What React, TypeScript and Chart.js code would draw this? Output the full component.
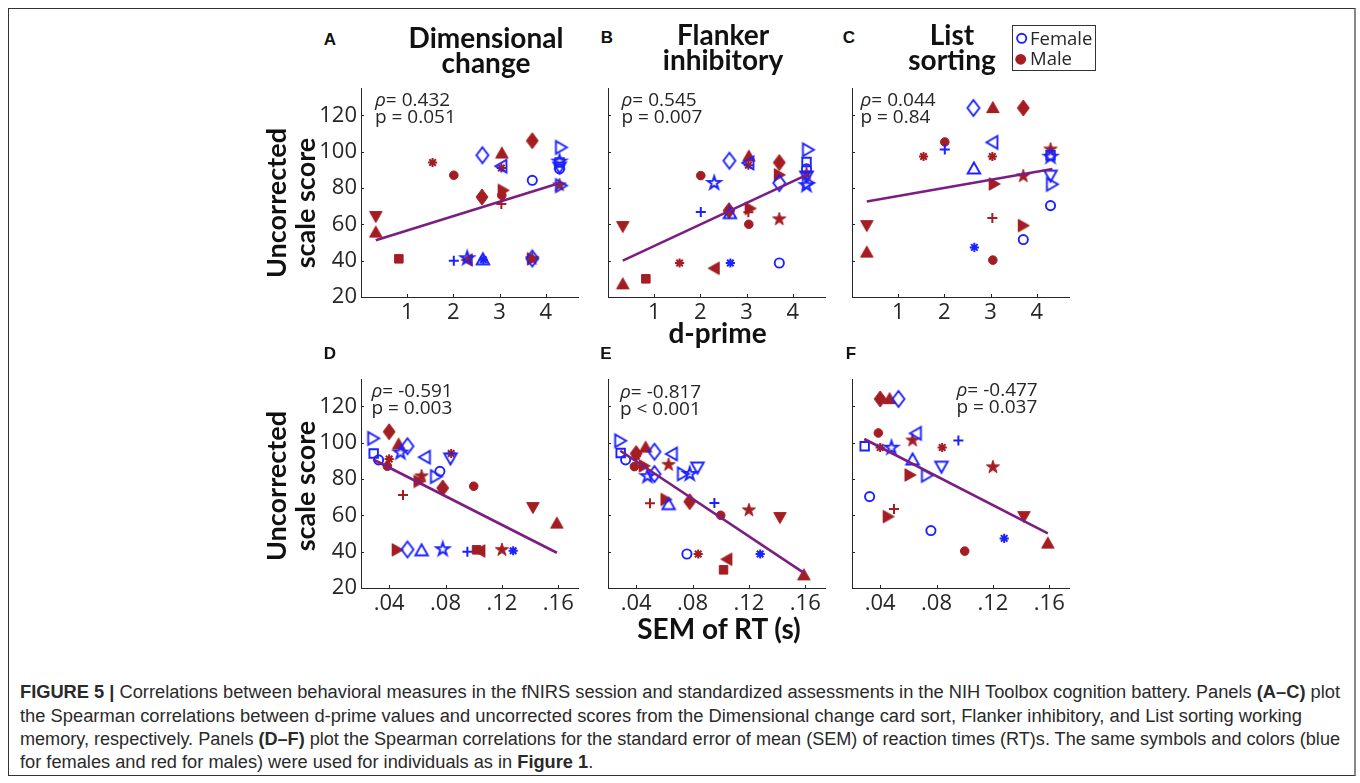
import React, { useEffect, useLayoutEffect, useRef } from 'react';
import { Chart, registerables } from 'chart.js';

Chart.register(...registerables);

const RED = '#a31d22';
const BLUE = '#1c22ff';
const PURPLE = '#7c1d82';
const INK = '#262626';

// ---- individuals: same symbol + colour = same person in every panel ----
const sex = ['M','M','M','M','M','M','M','M','M','M','M','M','M','M','M','M',
             'F','F','F','F','F','F','F','F','F','F','F','F','F','F'];
const marker = ['^','v','s','*','o','<','d','^','*','>','o','+','d','p','>','p',
                '+','p','^','*','d','<','o','d','>','s','o','p','v','>'];
const dprime = [0.32,0.32,0.82,1.55,2.01,2.29,2.62,3.05,3.04,3.09,3.05,3.04,3.71,3.71,3.72,4.30,
                2.01,2.30,2.64,2.65,2.63,3.03,3.71,3.71,4.34,4.30,4.30,4.30,4.30,4.34];
const semRT = [0.159,0.142,0.102,0.084,0.0387,0.104,0.078,0.0467,0.040,0.0615,0.100,0.0498,0.040,0.120,0.046,0.063,
               0.0955,0.078,0.063,0.128,0.053,0.065,0.076,0.053,0.029,0.029,0.0325,0.048,0.0835,0.0735];
const dccsScore = [56,64,41,94,87,40.4,75,99.5,91,78.7,76,71.2,106,41,41,81.5,
                   40,41.3,41,40.5,98,92,84.2,41.2,102.3,94,90.5,94.5,91,81.3];
const flankerScore = [27.5,58.5,30,38.7,86.8,35.8,67.5,97.8,92.5,68.7,60,66.7,94,62.8,87.2,87.8,
                      66.8,82.7,66.4,38.7,95,93.8,38.7,82.7,101,94.3,90.5,81.5,86,82.8];
const listScore: (number | null)[] = [45,59,null,97.3,105.3,null,null,124.5,97.3,82.2,40.3,63.5,124,86.5,59.3,101.2,
                   101.2,null,91,47.3,124,105.1,51.6,null,null,98,70.3,97.2,86.5,82];

// ---- regression lines (end points) ----
const fitDprimeX = [0.32, 4.34];
const fitSemX = [0.0287, 0.159];
const fitDccsOnDprime = [51.2, 83.0];
const fitFlankerOnDprime = [40.0, 87.6];
const fitListOnDprime = [72.5, 90.4];
const fitDccsOnSem = [90.7, 39.4];
const fitFlankerOnSem = [95.5, 28.3];
const fitListOnSem = [102.0, 50.1];

// ---- axes ----
const dprimeTicks = [1, 2, 3, 4];
const semTicks = [0.04, 0.08, 0.12, 0.16];
const scoreTicks = [20, 40, 60, 80, 100, 120];
const dprimeRange = [0, 4.7];
const semRange = [0.02, 0.174];
const scoreRange = [20, 135];

// ---- statistics text ----
const rhoText = ['0.432', '0.545', '0.044', '-0.591', '-0.817', '-0.477'];
const pText = ['= 0.051', '= 0.007', '= 0.84', '= 0.003', '< 0.001', '= 0.037'];

// ---- layout ----
const PLOT_W = 217;
const PLOT_H = 209;
const AX_W = 70;
const PAD_T = 20;
const PAD_R = 24;
const AX_H = 40;

type PanelDef = {
  L: number; T: number; xs: number[]; ys: (number | null)[];
  xRange: number[]; xTicks: number[]; sem: boolean; fitX: number[]; fitY: number[]; showY: boolean;
};

const panelDefs: PanelDef[] = [
  { L: 361, T: 88, xs: dprime, ys: dccsScore, xRange: dprimeRange, xTicks: dprimeTicks, sem: false, fitX: fitDprimeX, fitY: fitDccsOnDprime, showY: true },
  { L: 608, T: 88, xs: dprime, ys: flankerScore, xRange: dprimeRange, xTicks: dprimeTicks, sem: false, fitX: fitDprimeX, fitY: fitFlankerOnDprime, showY: false },
  { L: 852, T: 88, xs: dprime, ys: listScore, xRange: dprimeRange, xTicks: dprimeTicks, sem: false, fitX: fitDprimeX, fitY: fitListOnDprime, showY: false },
  { L: 361, T: 379, xs: semRT, ys: dccsScore, xRange: semRange, xTicks: semTicks, sem: true, fitX: fitSemX, fitY: fitDccsOnSem, showY: true },
  { L: 608, T: 379, xs: semRT, ys: flankerScore, xRange: semRange, xTicks: semTicks, sem: true, fitX: fitSemX, fitY: fitFlankerOnSem, showY: false },
  { L: 852, T: 379, xs: semRT, ys: listScore, xRange: semRange, xTicks: semTicks, sem: true, fitX: fitSemX, fitY: fitListOnSem, showY: false },
];

const statPos = [
  [375, 91], [621.5, 91], [860.5, 91], [371.5, 382], [620, 382.5], [956.5, 381],
];

// ---- marker images for shapes Chart.js lacks ----
const imgCache: Record<string, HTMLCanvasElement> = {};
function markerImage(m: string, filled: boolean): HTMLCanvasElement {
  const key = m + (filled ? 'M' : 'F');
  if (imgCache[key]) return imgCache[key];
  const S = 20;
  const c = document.createElement('canvas');
  c.width = S; c.height = S;
  const g = c.getContext('2d')!;
  g.translate(S / 2, S / 2);
  const col = filled ? RED : BLUE;
  g.beginPath();
  if (m === 'p') {
    const R = 6.9, r = R * 0.382;
    for (let k = 0; k < 10; k++) {
      const a = -Math.PI / 2 + (k * Math.PI) / 5;
      const rad = k % 2 ? r : R;
      const px = Math.cos(a) * rad, py = Math.sin(a) * rad;
      if (k) g.lineTo(px, py); else g.moveTo(px, py);
    }
    g.closePath();
  } else if (m === 'd') {
    g.moveTo(0, -8); g.lineTo(6, 0); g.lineTo(0, 8); g.lineTo(-6, 0); g.closePath();
  } else {
    const rots: Record<string, number> = { '^': 0, '>': 90, 'v': 180, '<': 270 };
    g.rotate(((rots[m] || 0) * Math.PI) / 180);
    const w = 12.5, h = 11;
    g.moveTo(0, -h / 2); g.lineTo(w / 2, h / 2); g.lineTo(-w / 2, h / 2); g.closePath();
  }
  if (filled) { g.fillStyle = col; g.fill(); g.lineWidth = 1; } else { g.lineWidth = 1.9; }
  g.strokeStyle = col;
  g.stroke();
  imgCache[key] = c;
  return c;
}

function styleFor(m: string, filled: boolean): any {
  if (m === 'o') return 'circle';
  if (m === 's') return 'rect';
  if (m === '*') return 'star';
  if (m === '+') return 'cross';
  return markerImage(m, filled);
}
function radiusFor(m: string, filled: boolean): number {
  if (m === 'o') return filled ? 4.3 : 4.6;
  if (m === 's') return 6;
  if (m === '*') return 4.6;
  if (m === '+') return 5;
  return 6;
}
function borderFor(m: string, filled: boolean): number {
  if (m === '*') return 2;
  if (m === '+') return 2;
  return filled ? 1 : 1.9;
}

const inwardTicks = {
  id: 'inwardTicks',
  afterDraw(chart: any, _args: any, opts: any) {
    const { ctx, chartArea: a, scales } = chart;
    ctx.save();
    ctx.strokeStyle = INK;
    ctx.lineWidth = 1;
    ctx.beginPath();
    for (const v of opts.x) {
      const px = Math.round(scales.x.getPixelForValue(v)) + 0.5;
      ctx.moveTo(px, a.bottom); ctx.lineTo(px, a.bottom - 3);
    }
    for (const v of opts.y) {
      const py = Math.round(scales.y.getPixelForValue(v)) + 0.5;
      ctx.moveTo(a.left, py); ctx.lineTo(a.left + 3, py);
    }
    ctx.stroke();
    ctx.restore();
  },
};

function Panel({ def }: { def: PanelDef }) {
  const ref = useRef<HTMLCanvasElement>(null);
  useEffect(() => {
    const pts = (s: string) =>
      def.xs
        .map((x, i) => ({ x, y: def.ys[i], i }))
        .filter((p) => sex[p.i] === s && p.y !== null && p.y !== undefined);
    const groupDataset = (s: string) => {
      const filled = s === 'M';
      return {
        data: pts(s),
        showLine: false,
        clip: false as any,
        pointStyle: (c: any) => (c.raw ? styleFor(marker[c.raw.i], filled) : 'circle'),
        pointRadius: (c: any) => (c.raw ? radiusFor(marker[c.raw.i], filled) : 4),
        pointBorderWidth: (c: any) => (c.raw ? borderFor(marker[c.raw.i], filled) : 1),
        pointBackgroundColor: filled ? RED : 'rgba(0,0,0,0)',
        pointBorderColor: filled ? RED : BLUE,
      };
    };
    const fmt = (v: number) => (def.sem ? v.toFixed(2).replace(/^0/, '') : String(v));
    const chart = new Chart(ref.current!, {
      type: 'scatter',
      data: {
        datasets: [
          {
            data: def.fitX.map((x, k) => ({ x, y: def.fitY[k] })),
            showLine: true,
            borderColor: PURPLE,
            borderWidth: 2.6,
            pointRadius: 0,
            clip: false as any,
          } as any,
          groupDataset('F') as any,
          groupDataset('M') as any,
        ],
      },
      options: {
        responsive: false,
        animation: false,
        events: [],
        layout: { padding: { top: PAD_T, right: PAD_R, left: 0, bottom: 0 } },
        plugins: {
          legend: { display: false },
          tooltip: { enabled: false },
          inwardTicks: { x: def.xTicks, y: scoreTicks },
        } as any,
        scales: {
          x: {
            type: 'linear',
            min: def.xRange[0],
            max: def.xRange[1],
            afterFit: (s: any) => { s.height = AX_H; },
            afterBuildTicks: (s: any) => { s.ticks = def.xTicks.map((v) => ({ value: v })); },
            grid: { display: false, drawTicks: false },
            border: { display: true, color: INK, width: 1 },
            ticks: {
              autoSkip: false, maxRotation: 0, padding: 3, color: INK,
              font: { family: '"Open Sans"', size: 22 },
              callback: (v: any) => fmt(Number(v)),
            },
          },
          y: {
            type: 'linear',
            min: scoreRange[0],
            max: scoreRange[1],
            afterFit: (s: any) => { s.width = AX_W; },
            afterBuildTicks: (s: any) => { s.ticks = scoreTicks.map((v) => ({ value: v })); },
            grid: { display: false, drawTicks: false },
            border: { display: true, color: INK, width: 1 },
            ticks: {
              display: def.showY, autoSkip: false, padding: 4, color: INK,
              font: { family: '"Open Sans"', size: 22 },
              callback: (v: any) => String(v),
            },
          },
        } as any,
      },
      plugins: [inwardTicks as any],
    });
    return () => chart.destroy();
  }, []);
  return (
    <canvas
      ref={ref}
      width={AX_W + PLOT_W + PAD_R}
      height={PAD_T + PLOT_H + AX_H}
      style={{ position: 'absolute', left: def.L - AX_W, top: def.T - PAD_T }}
    />
  );
}

const abs = (x: number, y: number, extra: React.CSSProperties = {}): React.CSSProperties => ({
  position: 'absolute', left: x, top: y, whiteSpace: 'nowrap', ...extra,
});

const titleStyle: React.CSSProperties = {
  fontFamily: 'Lato, "Open Sans", sans-serif', fontWeight: 700, fontSize: 28, lineHeight: '25px',
  color: '#111', textAlign: 'center', width: 240,
};
const letterStyle: React.CSSProperties = {
  fontFamily: '"Liberation Sans", Arial, sans-serif', fontWeight: 700, fontSize: 17, lineHeight: '17px',
  color: '#111', textAlign: 'center', width: 30,
};
const statStyle: React.CSSProperties = {
  fontFamily: '"Open Sans", sans-serif', fontSize: 19, lineHeight: '17px', color: INK,
};
const axisTitleStyle: React.CSSProperties = {
  fontFamily: 'Lato, "Open Sans", sans-serif', fontWeight: 700, fontSize: 27, color: '#111',
};

const captionLines: [string, boolean][][] = [
  [['FIGURE 5 |', true], [' Correlations between behavioral measures in the fNIRS session and standardized assessments in the NIH Toolbox cognition battery. Panels ', false], ['(A–C)', true], [' plot', false]],
  [['the Spearman correlations between d-prime values and uncorrected scores from the Dimensional change card sort, Flanker inhibitory, and List sorting working', false]],
  [['memory, respectively. Panels ', false], ['(D–F)', true], [' plot the Spearman correlations for the standard error of mean (SEM) of reaction times (RT)s. The same symbols and colors (blue', false]],
  [['for females and red for males) were used for individuals as in ', false], ['Figure 1', true], ['.', false]],
];
// target widths of the justified-looking lines; 0 = use the mean scale of the others
const captionWidths = [1320, 1282, 1320, 0];
const captionCenters = [692, 716, 739, 762];

function Caption() {
  const refs = useRef<(HTMLSpanElement | null)[]>([]);
  useLayoutEffect(() => {
    const scales: number[] = [];
    refs.current.forEach((el, k) => {
      if (!el || !captionWidths[k]) return;
      const w = el.getBoundingClientRect().width;
      if (w > 0) {
        const s = captionWidths[k] / w;
        scales.push(s);
        el.style.transform = `scaleX(${s})`;
      }
    });
    const mean = scales.length ? scales.reduce((a, b) => a + b, 0) / scales.length : 1;
    refs.current.forEach((el, k) => {
      if (el && !captionWidths[k]) el.style.transform = `scaleX(${mean})`;
    });
  }, []);
  return (
    <>
      {captionLines.map((segs, k) => (
        <span
          key={k}
          ref={(el) => { refs.current[k] = el; }}
          style={{
            position: 'absolute', left: 20, top: captionCenters[k] - 10.5, display: 'inline-block',
            whiteSpace: 'nowrap', transformOrigin: 'left center', lineHeight: '21px',
            fontFamily: '"Liberation Sans", Arial, sans-serif', fontSize: 18, color: '#2a2a2a',
          }}
        >
          {segs.map(([t, b], j) => (
            <span key={j} style={{ fontWeight: b ? 700 : 400 }}>{t}</span>
          ))}
        </span>
      ))}
    </>
  );
}

export default function App() {
  return (
    <div style={{ position: 'fixed', left: 0, top: 0, width: 1360, height: 783, background: '#fff', overflow: 'hidden' }}>
      <div style={{ position: 'absolute', left: 8, top: 8, width: 1348, height: 768, boxSizing: 'border-box', borderTop: '1px solid #333', borderLeft: '1px solid #333', borderBottom: '1px solid #333', borderRight: '2px solid #888' }} />

      {panelDefs.map((d, k) => <Panel key={k} def={d} />)}

      {/* panel letters */}
      <div style={abs(315, 30.5, letterStyle)}>A</div>
      <div style={abs(592, 29, letterStyle)}>B</div>
      <div style={abs(834, 29, letterStyle)}>C</div>
      <div style={abs(315, 344.5, letterStyle)}>D</div>
      <div style={abs(591, 344.5, letterStyle)}>E</div>
      <div style={abs(836, 344.5, letterStyle)}>F</div>

      {/* titles */}
      <div style={abs(486 - 120, 25, titleStyle)}>Dimensional<br />change</div>
      <div style={abs(723 - 120, 21.7, titleStyle)}>Flanker<br />inhibitory</div>
      <div style={abs(952 - 120, 21.7, titleStyle)}>List<br />sorting</div>

      {/* statistics */}
      {statPos.map(([x, y], k) => (
        <div key={k} style={abs(x, y, statStyle)}>
          <div><i>ρ</i>= {rhoText[k]}</div>
          <div>p {pText[k]}</div>
        </div>
      ))}

      {/* y-axis titles */}
      {[203, 486].map((cy, k) => (
        <div key={k} style={abs(289.5 - 110, cy - 29, {
          ...axisTitleStyle, width: 220, height: 58, lineHeight: '29px', textAlign: 'center',
          transform: 'rotate(-90deg)', transformOrigin: 'center center',
        })}>Uncorrected<br />scale score</div>
      ))}

      {/* x-axis titles */}
      <div style={abs(717.5 - 120, 318, { ...axisTitleStyle, fontSize: 28, lineHeight: '28px', width: 240, textAlign: 'center' })}>d-prime</div>
      <div style={abs(719 - 120, 614, { ...axisTitleStyle, fontSize: 28, lineHeight: '28px', width: 240, textAlign: 'center' })}>SEM of RT (s)</div>

      {/* legend */}
      <div style={{ position: 'absolute', left: 1012, top: 25, width: 84, height: 46, boxSizing: 'border-box', border: '1px solid #333', background: '#fff' }} />
      <svg style={{ position: 'absolute', left: 1012, top: 25 }} width={20} height={46}>
        <circle cx={9.7} cy={13.3} r={4.6} fill="none" stroke={BLUE} strokeWidth={1.9} />
        <circle cx={8.7} cy={34.3} r={5.4} fill={RED} />
      </svg>
      <div style={abs(1030, 27.8, { fontFamily: '"Open Sans", sans-serif', fontSize: 18.5, lineHeight: '20px', color: INK })}>Female</div>
      <div style={abs(1030, 47.8, { fontFamily: '"Open Sans", sans-serif', fontSize: 18.5, lineHeight: '20px', color: INK })}>Male</div>

      <Caption />
    </div>
  );
}
